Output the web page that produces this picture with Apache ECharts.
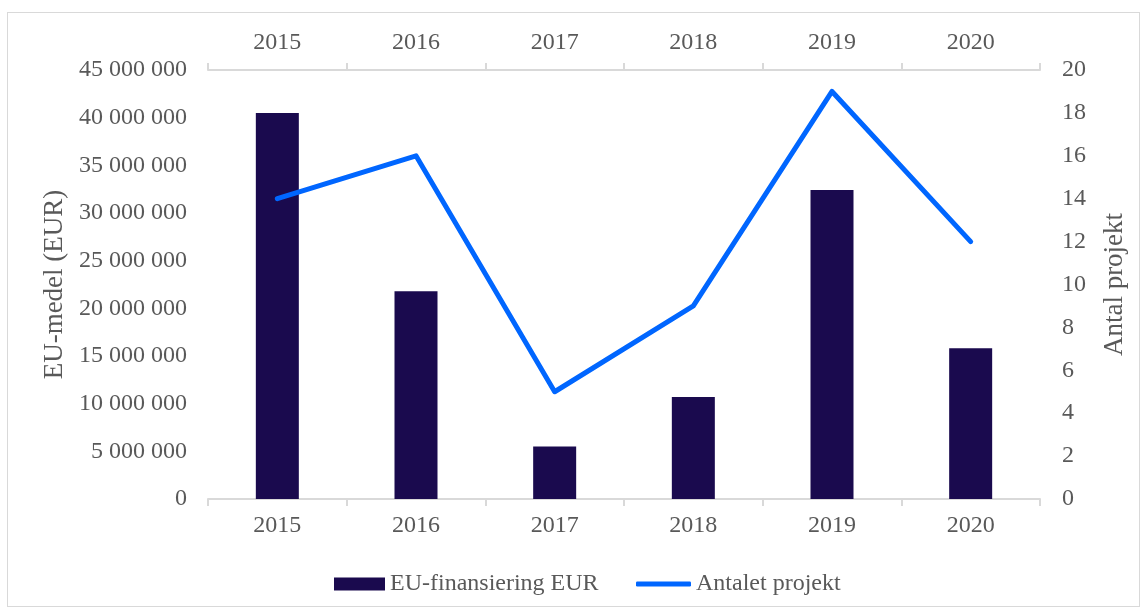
<!DOCTYPE html>
<html lang="sv">
<head>
    <meta charset="UTF-8">
    <title>EU-finansiering</title>
    <style>
        body{ margin: 0; background: #fff; }
        #frame{
            position: absolute; left: 7px; top: 12px;
            width: 1133px; height: 595px;
            border: 1px solid #d9d9d9; box-sizing: border-box;
        }
        #main{ position: absolute; left: 0; top: 0; width: 1145px; height: 610px; }
    </style>
</head>
<body>
    <div id="frame"></div>
    <div id="main"></div>
    <script src="https://cdn.jsdelivr.net/npm/echarts@6/dist/echarts.min.js"></script>
    <script>
        var years = ['2015', '2016', '2017', '2018', '2019', '2020'];
        var euFunding = [40500000, 21800000, 5500000, 10700000, 32400000, 15800000];
        var projectCount = [14, 16, 5, 9, 19, 12];

        var font = 'Liberation Serif';
        var grey = '#595959';
        var navy = '#1a0a4e';
        var blue = '#0066ff';

        var myChart = echarts.init(document.getElementById('main'));

        function spaced(v){
            return String(v).replace(/\B(?=(\d{3})+(?!\d))/g, ' ');
        }

        // samma kategoriaxel nere och uppe
        var catAxis = function(pos){
            return {
                type: 'category',
                data: years,
                position: pos,
                axisLine: { onZero: false, lineStyle: { color: '#d9d9d9', width: 2 } },
                axisTick: { show: true, length: 7, lineStyle: { color: '#d9d9d9', width: 2 } },
                axisLabel: { color: grey, fontFamily: font, fontSize: 24, margin: 15 }
            };
        };

        var legendText = { color: grey, fontFamily: font, fontSize: 24 };

        var option = {
            grid: { left: 208, right: 105, top: 70, bottom: 111 },
            legend: [{
                left: 334,
                top: 572,
                padding: 0,
                itemWidth: 51,
                itemHeight: 13,
                textStyle: legendText,
                data: [{ name: 'EU-finansiering EUR', icon: 'rect' }]
            }, {
                left: 636,
                top: 572,
                padding: 0,
                itemWidth: 55,
                itemHeight: 5,
                textStyle: legendText,
                data: [{ name: 'Antalet projekt', icon: 'roundRect' }]
            }],
            xAxis: [catAxis('bottom'), catAxis('top')],
            yAxis: [{
                type: 'value',
                min: 0, max: 45000000, interval: 5000000,
                name: 'EU-medel (EUR)',
                nameLocation: 'middle',
                nameGap: 140,
                nameRotate: 90,
                nameTextStyle: { color: grey, fontFamily: font, fontSize: 27 },
                axisLine: { show: false },
                axisTick: { show: false },
                splitLine: { show: false },
                axisLabel: { color: grey, fontFamily: font, fontSize: 24, margin: 21, formatter: spaced }
            }, {
                type: 'value',
                min: 0, max: 20, interval: 2,
                name: 'Antal projekt',
                nameLocation: 'middle',
                nameGap: 61,
                nameRotate: 90,
                nameTextStyle: { color: grey, fontFamily: font, fontSize: 27 },
                axisLine: { show: false },
                axisTick: { show: false },
                splitLine: { show: false },
                axisLabel: { color: grey, fontFamily: font, fontSize: 24, margin: 22 }
            }],
            series: [{
                name: 'EU-finansiering EUR',
                type: 'bar',
                data: euFunding,
                barWidth: 43,
                itemStyle: { color: navy }
            }, {
                name: 'Antalet projekt',
                type: 'line',
                yAxisIndex: 1,
                data: projectCount,
                symbol: 'none',
                lineStyle: { color: blue, width: 5, cap: 'round', join: 'round' },
                itemStyle: { color: blue }
            }]
        };

        myChart.setOption(option);
    </script>
</body>
</html>
